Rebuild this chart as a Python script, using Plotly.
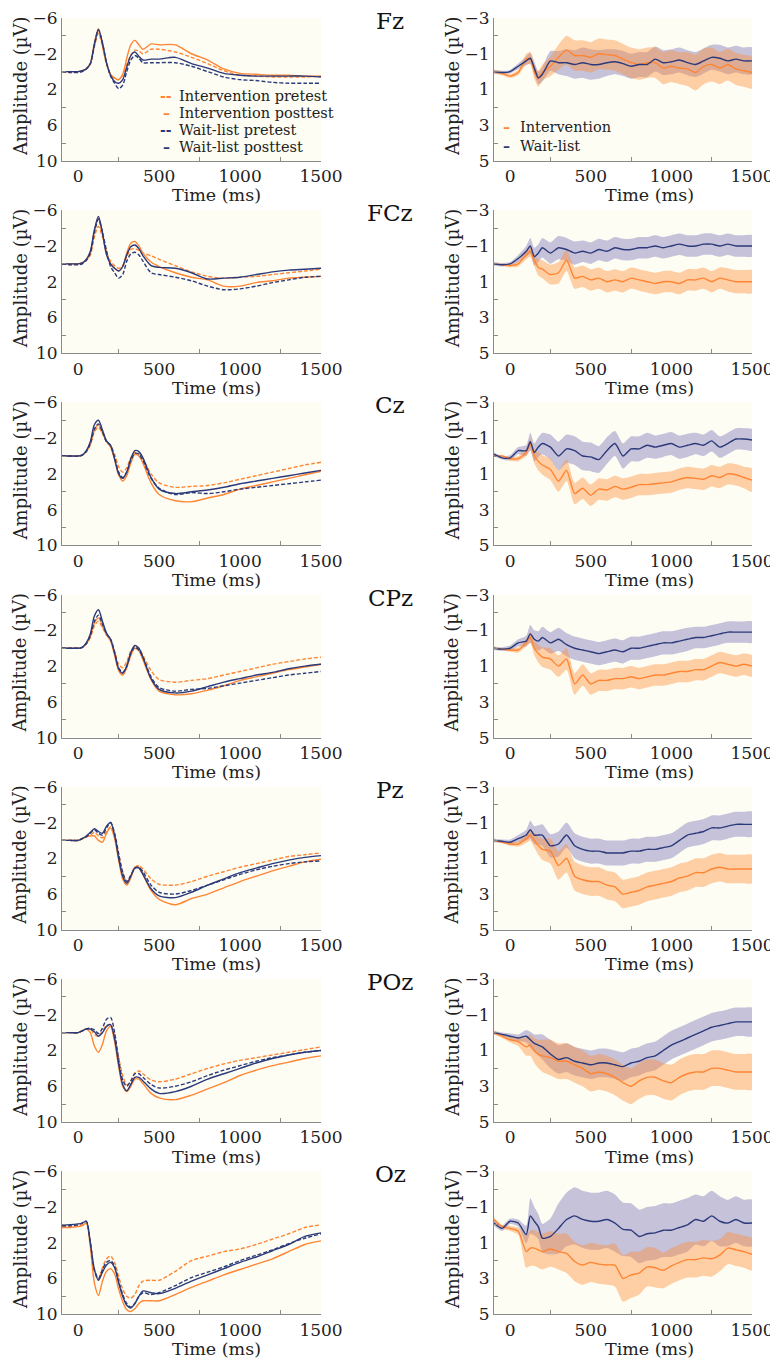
import plotly.graph_objects as go

# ---------------- data ----------------
CHANNELS = ["Fz", "FCz", "Cz", "CPz", "Pz", "POz", "Oz"]

TL = [-100, -50, 0, 25, 50, 75, 100, 125, 150, 175, 200, 225, 250, 275, 300, 325, 350, 375, 400,
      450, 500, 600, 700, 800, 900, 1000, 1100, 1200, 1300, 1400, 1500]

# left panels: grand averages (µV) -- int_pre, int_post, wl_pre, wl_post
fz_int_pre = [0, 0.1, 0, -0.1, -0.3, -0.8, -2.8, -4.3, -2.8, -0.8, 0.3, 0.8, 0.9, 0.4, -0.8, -1.8, -2.4, -2.3, -2.0, -2.5, -2.5, -2.2, -1.6, -0.9, -0.1, 0.4, 0.5, 0.6, 0.6, 0.6, 0.5]
fz_int_post = [0, 0, 0, -0.1, -0.3, -0.9, -3.2, -4.8, -3.0, -0.9, 0.3, 0.7, 0.9, 0.3, -1.5, -3.0, -3.5, -3.0, -2.5, -3.1, -3.0, -3.0, -2.0, -1.3, -0.3, 0.2, 0.3, 0.4, 0.4, 0.5, 0.5]
fz_wl_pre = [0, 0.1, 0.1, 0, -0.3, -0.9, -3.0, -4.7, -3.2, -1.0, 0.5, 1.3, 1.9, 1.5, 0.0, -1.3, -1.8, -1.5, -1.0, -1.0, -1.0, -1.0, -0.6, 0.0, 0.6, 0.9, 1.0, 1.2, 1.3, 1.3, 1.3]
fz_wl_post = [0, 0, 0, -0.1, -0.3, -0.9, -3.0, -4.7, -3.2, -1.0, 0.4, 1.1, 1.3, 0.9, -0.5, -1.8, -2.2, -1.7, -1.3, -1.4, -1.4, -1.6, -0.9, -0.4, 0.2, 0.4, 0.5, 0.5, 0.5, 0.5, 0.6]

fcz_int_pre = [0, 0.1, 0, -0.1, -0.4, -1.0, -3.0, -4.2, -3.0, -1.3, -0.3, 0.2, 0.5, 0.2, -0.8, -1.6, -1.7, -1.5, -1.2, -0.9, -0.5, 0.2, 0.9, 1.4, 1.6, 1.5, 1.4, 1.2, 1.0, 0.8, 0.6]
fcz_int_post = [0, 0, 0, -0.1, -0.4, -1.2, -3.6, -5.1, -3.3, -1.2, 0.0, 0.5, 0.8, 0.3, -1.2, -2.3, -2.5, -2.0, -1.2, -0.2, 0.3, 1.0, 1.5, 1.8, 2.5, 2.5, 2.1, 1.9, 1.6, 1.5, 1.4]
fcz_wl_pre = [0, 0.1, 0.1, 0, -0.4, -1.2, -3.5, -5.0, -3.5, -1.5, 0.3, 1.0, 1.6, 1.2, -0.3, -1.1, -1.3, -1.0, -0.3, 1.0, 1.2, 1.5, 1.9, 2.5, 2.9, 2.8, 2.5, 2.1, 1.8, 1.5, 1.4]
fcz_wl_post = [0, 0, 0, -0.1, -0.5, -1.4, -3.8, -5.3, -3.5, -1.0, 0.0, 0.5, 0.8, 0.3, -1.0, -1.9, -2.1, -1.7, -0.9, 0.2, 0.4, 0.5, 1.0, 1.7, 1.6, 1.5, 1.2, 0.9, 0.7, 0.6, 0.5]

cz_int_pre = [0, 0, 0, -0.1, -0.5, -1.3, -2.7, -3.2, -2.5, -1.6, -1.2, -0.2, 1.2, 1.8, 1.3, 0.2, -0.4, -0.3, 0.3, 2.0, 3.0, 3.5, 3.4, 3.3, 3.0, 2.6, 2.2, 1.8, 1.4, 1.0, 0.7]
cz_int_post = [0, 0, 0, -0.1, -0.5, -1.3, -2.9, -3.5, -2.6, -1.6, -1.0, 0.4, 2.1, 2.8, 2.2, 0.8, -0.2, 0.0, 0.8, 3.0, 4.3, 5.0, 5.1, 4.7, 4.3, 3.7, 3.3, 2.9, 2.5, 2.1, 1.7]
cz_wl_pre = [0, 0, 0, -0.1, -0.5, -1.4, -3.0, -3.6, -2.7, -1.6, -1.2, 0.2, 1.8, 2.4, 1.8, 0.5, -0.3, -0.2, 0.5, 2.5, 3.6, 4.3, 4.1, 4.2, 4.0, 3.7, 3.5, 3.3, 3.1, 2.9, 2.7]
cz_wl_post = [0, 0, 0, -0.1, -0.6, -1.6, -3.5, -4.0, -2.9, -1.7, -1.2, 0.3, 2.0, 2.5, 1.8, 0.3, -0.6, -0.5, 0.2, 2.4, 3.7, 4.2, 4.0, 3.8, 3.5, 3.1, 2.8, 2.5, 2.2, 1.9, 1.6]

cpz_int_pre = [0, 0, 0, -0.1, -0.5, -1.2, -2.5, -3.0, -2.3, -1.5, -1.0, 0.3, 1.8, 2.2, 1.5, 0.3, -0.2, 0.0, 0.8, 2.5, 3.5, 3.8, 3.6, 3.4, 3.0, 2.6, 2.2, 1.8, 1.5, 1.2, 1.0]
cpz_int_post = [0, 0, 0, -0.1, -0.5, -1.3, -2.8, -3.4, -2.5, -1.5, -0.8, 0.8, 2.5, 3.0, 2.2, 0.8, 0.0, 0.3, 1.3, 3.5, 4.8, 5.2, 5.1, 4.7, 4.2, 3.6, 3.2, 2.8, 2.4, 2.1, 1.8]
cpz_wl_pre = [0, 0, 0, -0.1, -0.5, -1.4, -3.0, -3.7, -2.7, -1.6, -1.0, 0.5, 2.2, 2.7, 2.0, 0.6, -0.1, 0.2, 1.0, 3.2, 4.4, 4.8, 4.6, 4.5, 4.2, 3.9, 3.6, 3.3, 3.0, 2.8, 2.6]
cpz_wl_post = [0, 0, 0, -0.1, -0.6, -1.6, -3.6, -4.3, -3.0, -1.7, -1.0, 0.5, 2.3, 2.8, 2.0, 0.5, -0.3, 0.0, 1.0, 3.4, 4.6, 5.0, 4.8, 4.3, 3.8, 3.4, 3.0, 2.7, 2.3, 2.0, 1.8]

pz_int_pre = [0, 0, 0, -0.2, -0.4, -0.6, -0.9, -0.5, -0.3, -1.0, -1.5, -0.6, 1.5, 3.5, 4.6, 4.0, 3.0, 2.8, 3.2, 4.3, 4.9, 5.0, 4.6, 4.0, 3.5, 3.0, 2.6, 2.2, 1.8, 1.6, 1.4]
pz_int_post = [0, 0, 0, -0.2, -0.4, -0.5, -0.5, 0.0, 0.2, -0.8, -1.4, -0.2, 2.2, 4.3, 5.0, 4.2, 3.0, 3.0, 3.8, 5.6, 6.6, 7.2, 6.5, 6.0, 5.3, 4.6, 4.0, 3.4, 2.9, 2.4, 2.1]
pz_wl_pre = [0, 0, 0, -0.2, -0.4, -0.8, -1.2, -0.8, -0.6, -1.4, -2.0, -0.8, 1.5, 3.6, 4.6, 3.9, 3.1, 3.0, 3.5, 5.0, 5.8, 6.0, 5.6, 5.0, 4.4, 3.8, 3.3, 2.9, 2.6, 2.4, 2.3]
pz_wl_post = [0, 0, 0, -0.2, -0.5, -0.9, -1.3, -1.0, -0.8, -1.6, -2.0, -0.6, 2.0, 4.0, 4.8, 4.0, 3.1, 3.1, 3.8, 5.4, 6.2, 6.4, 5.8, 5.0, 4.3, 3.6, 3.1, 2.6, 2.2, 1.9, 1.7]

poz_int_pre = [0, 0, 0, -0.2, -0.4, -0.4, 0.2, 0.4, -0.2, -0.8, -0.9, 0.5, 2.8, 4.8, 5.8, 5.5, 4.5, 4.3, 4.6, 5.3, 5.5, 5.2, 4.6, 4.0, 3.5, 3.1, 2.8, 2.5, 2.2, 1.9, 1.6]
poz_int_post = [0, 0, 0, -0.2, -0.4, 0.0, 1.5, 2.2, 1.3, -0.2, -0.7, 1.0, 3.8, 6.0, 6.6, 6.0, 5.2, 5.2, 5.7, 6.8, 7.3, 7.5, 7.0, 6.3, 5.6, 4.8, 4.2, 3.7, 3.3, 2.9, 2.6]
poz_wl_pre = [0, 0, 0, -0.2, -0.4, -0.5, -0.3, 0.1, -0.5, -1.5, -1.7, 0.0, 3.0, 5.3, 6.0, 5.4, 4.6, 4.6, 5.0, 5.8, 6.2, 6.0, 5.5, 4.8, 4.2, 3.7, 3.2, 2.8, 2.5, 2.2, 2.0]
poz_wl_post = [0, 0, 0, -0.2, -0.4, -0.4, -0.1, 0.4, 0.0, -0.7, -0.9, 0.7, 3.5, 5.8, 6.5, 5.8, 5.0, 5.0, 5.4, 6.3, 6.8, 6.6, 6.0, 5.2, 4.6, 4.0, 3.4, 2.9, 2.5, 2.2, 2.0]

oz_int_pre = [0.2, 0.2, 0.1, 0, -0.3, 2.0, 5.2, 6.2, 4.8, 3.8, 3.5, 4.2, 5.8, 7.2, 8.0, 8.2, 7.8, 6.8, 6.3, 6.2, 6.2, 5.2, 4.0, 3.5, 3.0, 2.7, 2.2, 1.6, 1.0, 0.3, 0.0]
oz_int_post = [0.3, 0.3, 0.2, 0.1, -0.2, 2.5, 6.5, 7.9, 6.3, 5.2, 4.9, 5.5, 7.2, 8.6, 9.5, 9.7, 9.4, 8.8, 8.5, 8.5, 8.5, 7.8, 7.0, 6.3, 5.6, 5.0, 4.4, 3.8, 3.0, 2.2, 1.8]
oz_wl_pre = [0.1, 0.1, 0, -0.2, -0.4, 2.0, 5.0, 6.0, 5.0, 4.2, 4.0, 4.6, 6.3, 7.8, 8.8, 9.2, 8.8, 8.0, 7.6, 7.8, 7.6, 6.8, 5.9, 5.3, 4.7, 4.0, 3.4, 2.8, 2.1, 1.5, 1.0]
oz_wl_post = [0, 0, -0.1, -0.2, -0.4, 2.0, 5.0, 6.2, 5.3, 4.5, 4.2, 4.8, 6.5, 8.0, 9.0, 9.3, 8.8, 8.0, 7.4, 7.6, 7.7, 7.1, 6.3, 5.6, 4.9, 4.2, 3.6, 2.9, 2.2, 1.3, 0.9]

LEFT = {
    "Fz": (fz_int_pre, fz_int_post, fz_wl_pre, fz_wl_post),
    "FCz": (fcz_int_pre, fcz_int_post, fcz_wl_pre, fcz_wl_post),
    "Cz": (cz_int_pre, cz_int_post, cz_wl_pre, cz_wl_post),
    "CPz": (cpz_int_pre, cpz_int_post, cpz_wl_pre, cpz_wl_post),
    "Pz": (pz_int_pre, pz_int_post, pz_wl_pre, pz_wl_post),
    "POz": (poz_int_pre, poz_int_post, poz_wl_pre, poz_wl_post),
    "Oz": (oz_int_pre, oz_int_post, oz_wl_pre, oz_wl_post),
}

# right panels: difference waves (post - pre) with error bands
TR = [-100, -50, 0, 50, 100, 125, 150, 175, 200, 250, 300, 350, 400, 450, 500, 550, 600, 650, 700,
      750, 800, 850, 900, 950, 1000, 1050, 1100, 1150, 1200, 1250, 1300, 1350, 1400, 1450, 1500]

fz_int = [0, 0.1, 0.25, 0.05, -0.7, -0.75, 0.0, 0.4, 0.05, -0.3, -0.8, -1.2, -0.9, -0.9, -0.8, -1.0, -0.95, -0.9, -0.7, -0.5, -0.4, -0.5, -0.5, -0.2, -0.3, -0.2, -0.15, 0.05, -0.3, -0.4, -0.2, -0.4, -0.15, -0.05, 0.05]
fz_int_err = [0.1, 0.1, 0.1, 0.15, 0.3, 0.35, 0.4, 0.45, 0.45, 0.55, 0.7, 0.8, 0.85, 0.85, 0.85, 0.85, 0.85, 0.85, 0.85, 0.85, 0.85, 0.85, 0.85, 0.9, 0.9, 0.9, 0.95, 1.0, 1.0, 0.95, 0.9, 0.9, 0.9, 0.9, 0.9]
fz_wl = [0, 0.05, 0.0, -0.3, -0.6, -0.75, -0.2, 0.35, 0.15, -0.6, -0.5, -0.5, -0.4, -0.5, -0.4, -0.4, -0.5, -0.55, -0.45, -0.3, -0.4, -0.4, -0.7, -0.5, -0.55, -0.65, -0.5, -0.4, -0.6, -0.8, -0.75, -0.6, -0.7, -0.6, -0.6]
fz_wl_err = [0.1, 0.1, 0.1, 0.15, 0.25, 0.3, 0.35, 0.35, 0.4, 0.55, 0.65, 0.75, 0.8, 0.85, 0.85, 0.8, 0.75, 0.7, 0.7, 0.7, 0.7, 0.7, 0.7, 0.7, 0.7, 0.7, 0.7, 0.7, 0.7, 0.7, 0.75, 0.75, 0.75, 0.75, 0.75]

fcz_int = [0, 0.05, 0.1, 0.0, -0.5, -0.7, -0.2, 0.2, 0.3, 0.6, 0.5, -0.2, 0.8, 0.7, 0.9, 0.8, 1.0, 0.9, 1.0, 0.8, 0.9, 1.0, 1.1, 1.0, 1.0, 1.1, 0.9, 0.9, 0.8, 1.0, 0.8, 0.9, 1.0, 1.0, 1.0]
fcz_int_err = [0.05, 0.05, 0.1, 0.15, 0.25, 0.3, 0.35, 0.45, 0.5, 0.55, 0.6, 0.6, 0.6, 0.6, 0.6, 0.6, 0.6, 0.6, 0.6, 0.6, 0.6, 0.6, 0.6, 0.6, 0.6, 0.6, 0.6, 0.6, 0.6, 0.6, 0.6, 0.65, 0.65, 0.65, 0.65]
fcz_wl = [0, 0.05, 0.0, -0.3, -0.7, -1.0, -0.4, -0.6, -0.9, -0.6, -0.9, -0.8, -0.6, -0.7, -0.6, -0.8, -0.7, -0.9, -0.8, -0.8, -0.9, -0.9, -1.0, -0.9, -1.0, -1.1, -1.0, -1.0, -1.1, -1.1, -1.0, -1.1, -1.0, -1.0, -1.0]
fcz_wl_err = [0.1, 0.1, 0.1, 0.2, 0.3, 0.45, 0.5, 0.5, 0.55, 0.6, 0.65, 0.65, 0.65, 0.6, 0.6, 0.6, 0.6, 0.6, 0.6, 0.6, 0.6, 0.6, 0.6, 0.6, 0.6, 0.6, 0.6, 0.6, 0.6, 0.6, 0.6, 0.6, 0.6, 0.6, 0.6]

cz_int = [0, 0.0, 0.15, 0.15, -0.2, -0.7, 0.0, 0.3, 0.5, 0.75, 1.4, 0.8, 2.1, 1.8, 2.2, 1.85, 1.9, 1.7, 1.85, 1.75, 1.6, 1.6, 1.55, 1.5, 1.45, 1.3, 1.2, 1.25, 1.3, 1.1, 1.2, 1.0, 1.05, 1.2, 1.35]
cz_int_err = [0.05, 0.05, 0.1, 0.15, 0.2, 0.3, 0.4, 0.5, 0.55, 0.6, 0.6, 0.6, 0.6, 0.6, 0.6, 0.6, 0.6, 0.6, 0.6, 0.6, 0.6, 0.6, 0.6, 0.6, 0.6, 0.6, 0.6, 0.6, 0.6, 0.6, 0.6, 0.6, 0.6, 0.6, 0.65]
cz_wl = [-0.1, 0.1, 0.1, -0.3, -0.3, -0.8, -0.2, -0.5, -0.7, -0.5, 0.0, -0.4, -0.3, 0.0, 0.05, 0.2, -0.3, -0.7, 0.0, -0.4, -0.4, -0.6, -0.5, -0.6, -0.7, -0.5, -0.6, -0.7, -0.6, -0.85, -0.5, -0.7, -0.95, -0.95, -0.9]
cz_wl_err = [0.1, 0.1, 0.15, 0.2, 0.3, 0.5, 0.5, 0.55, 0.6, 0.7, 0.8, 0.8, 0.8, 0.8, 0.8, 0.75, 0.75, 0.7, 0.7, 0.7, 0.7, 0.7, 0.65, 0.65, 0.65, 0.65, 0.65, 0.6, 0.6, 0.6, 0.6, 0.6, 0.6, 0.6, 0.6]

cpz_int = [0, 0.05, 0.1, 0.1, -0.3, -0.6, 0.0, 0.3, 0.5, 0.6, 1.0, 0.6, 2.0, 1.5, 2.0, 1.8, 1.8, 1.7, 1.7, 1.6, 1.7, 1.6, 1.5, 1.5, 1.4, 1.3, 1.3, 1.2, 1.2, 1.0, 0.8, 0.9, 1.0, 0.9, 1.0]
cpz_int_err = [0.05, 0.05, 0.1, 0.15, 0.2, 0.3, 0.4, 0.5, 0.55, 0.6, 0.6, 0.6, 0.6, 0.6, 0.6, 0.6, 0.6, 0.6, 0.6, 0.6, 0.6, 0.6, 0.6, 0.6, 0.6, 0.6, 0.6, 0.6, 0.6, 0.6, 0.6, 0.6, 0.6, 0.6, 0.6]
cpz_wl = [0, 0.05, 0.0, -0.3, -0.4, -0.8, -0.5, -0.4, -0.6, -0.3, -0.5, -0.2, 0.0, 0.1, 0.2, 0.3, 0.2, 0.1, 0.2, 0.0, 0.0, -0.1, -0.2, -0.3, -0.3, -0.4, -0.5, -0.6, -0.6, -0.7, -0.8, -0.9, -0.9, -0.9, -0.9]
cpz_wl_err = [0.1, 0.1, 0.15, 0.2, 0.3, 0.5, 0.5, 0.55, 0.6, 0.6, 0.65, 0.65, 0.65, 0.65, 0.65, 0.65, 0.65, 0.65, 0.65, 0.65, 0.65, 0.65, 0.65, 0.65, 0.65, 0.65, 0.65, 0.6, 0.6, 0.6, 0.6, 0.6, 0.6, 0.6, 0.6]

pz_int = [0, 0.1, 0.2, 0.2, -0.1, -0.3, 0.0, 0.3, 0.5, 0.6, 1.4, 1.0, 2.0, 2.2, 2.3, 2.3, 2.5, 2.6, 3.0, 2.9, 2.8, 2.6, 2.5, 2.4, 2.3, 2.1, 2.0, 1.8, 1.8, 1.6, 1.5, 1.6, 1.6, 1.6, 1.6]
pz_int_err = [0.05, 0.05, 0.1, 0.15, 0.25, 0.3, 0.4, 0.5, 0.6, 0.7, 0.8, 0.8, 0.8, 0.8, 0.8, 0.8, 0.8, 0.8, 0.8, 0.8, 0.8, 0.8, 0.8, 0.8, 0.8, 0.8, 0.8, 0.8, 0.8, 0.8, 0.8, 0.8, 0.8, 0.8, 0.8]
pz_wl = [0, 0.05, 0.1, -0.1, -0.3, -0.6, -0.3, -0.3, -0.3, 0.3, 0.2, -0.3, 0.3, 0.5, 0.6, 0.6, 0.7, 0.7, 0.7, 0.6, 0.6, 0.5, 0.5, 0.4, 0.3, 0.0, -0.3, -0.4, -0.5, -0.7, -0.7, -0.8, -0.9, -0.9, -0.9]
pz_wl_err = [0.1, 0.1, 0.15, 0.2, 0.3, 0.5, 0.5, 0.55, 0.6, 0.65, 0.7, 0.7, 0.7, 0.7, 0.7, 0.7, 0.7, 0.7, 0.7, 0.7, 0.7, 0.7, 0.7, 0.7, 0.7, 0.7, 0.7, 0.7, 0.7, 0.7, 0.7, 0.7, 0.7, 0.7, 0.7]

poz_int = [0, 0.2, 0.4, 0.5, 0.8, 0.7, 1.0, 1.2, 1.3, 1.4, 1.6, 1.6, 1.8, 2.0, 2.3, 2.2, 2.3, 2.5, 2.8, 3.0, 2.7, 2.5, 2.5, 2.7, 2.8, 2.5, 2.3, 2.2, 2.2, 2.0, 2.0, 2.1, 2.2, 2.2, 2.2]
poz_int_err = [0.1, 0.1, 0.15, 0.25, 0.5, 0.6, 0.7, 0.8, 0.9, 1.0, 1.0, 1.0, 1.0, 1.0, 1.0, 1.0, 1.0, 1.0, 1.0, 1.0, 1.0, 1.0, 1.0, 1.0, 1.0, 1.0, 1.0, 1.0, 1.0, 1.0, 1.0, 1.0, 1.0, 1.0, 1.0]
poz_wl = [0, 0.1, 0.2, 0.3, 0.2, 0.4, 0.6, 0.7, 0.8, 1.2, 1.5, 1.4, 1.6, 1.7, 1.8, 1.7, 1.7, 1.8, 1.9, 1.7, 1.6, 1.4, 1.3, 1.0, 0.7, 0.5, 0.3, 0.1, -0.1, -0.3, -0.4, -0.5, -0.6, -0.6, -0.6]
poz_wl_err = [0.1, 0.1, 0.15, 0.2, 0.35, 0.45, 0.5, 0.6, 0.7, 0.8, 0.8, 0.8, 0.8, 0.8, 0.8, 0.8, 0.8, 0.8, 0.8, 0.8, 0.8, 0.8, 0.8, 0.8, 0.8, 0.8, 0.8, 0.8, 0.8, 0.8, 0.8, 0.8, 0.8, 0.8, 0.8]

oz_int = [-0.3, 0.1, 0.2, 0.35, 1.5, 1.3, 1.3, 1.4, 1.5, 1.35, 1.5, 1.6, 2.05, 2.25, 2.1, 2.2, 2.25, 2.25, 3.0, 2.8, 2.7, 2.35, 2.4, 2.55, 2.3, 2.1, 1.95, 1.95, 1.85, 1.9, 1.7, 1.3, 1.4, 1.5, 1.65]
oz_int_err = [0.1, 0.1, 0.15, 0.2, 0.9, 1.0, 1.0, 1.0, 1.0, 1.0, 1.0, 1.1, 1.1, 1.1, 1.1, 1.1, 1.1, 1.2, 1.3, 1.3, 1.2, 1.1, 1.1, 1.0, 1.0, 1.0, 1.0, 1.0, 1.0, 1.0, 0.9, 0.9, 0.9, 0.9, 0.9]
oz_wl = [-0.1, 0.2, -0.2, -0.1, 0.55, -0.5, -0.2, 0.1, 0.75, 0.65, 0.2, -0.3, -0.5, -0.3, -0.2, -0.2, -0.3, -0.1, 0.25, 0.3, 0.65, 0.5, 0.45, 0.3, 0.3, 0.15, 0.0, -0.3, -0.2, -0.5, -0.2, -0.1, -0.3, -0.1, -0.1]
oz_wl_err = [0.15, 0.15, 0.15, 0.2, 0.5, 1.0, 0.8, 0.7, 0.8, 1.0, 1.4, 1.5, 1.6, 1.6, 1.6, 1.6, 1.6, 1.6, 1.5, 1.5, 1.5, 1.5, 1.5, 1.5, 1.5, 1.5, 1.5, 1.4, 1.4, 1.4, 1.4, 1.3, 1.3, 1.3, 1.3]

RIGHT = {
    "Fz": (fz_int, fz_int_err, fz_wl, fz_wl_err),
    "FCz": (fcz_int, fcz_int_err, fcz_wl, fcz_wl_err),
    "Cz": (cz_int, cz_int_err, cz_wl, cz_wl_err),
    "CPz": (cpz_int, cpz_int_err, cpz_wl, cpz_wl_err),
    "Pz": (pz_int, pz_int_err, pz_wl, pz_wl_err),
    "POz": (poz_int, poz_int_err, poz_wl, poz_wl_err),
    "Oz": (oz_int, oz_int_err, oz_wl, oz_wl_err),
}

LEFT_NAMES = ["Intervention pretest", "Intervention posttest", "Wait-list pretest", "Wait-list posttest"]
RIGHT_NAMES = ["Intervention", "Wait-list"]
X_TICKS = [0, 500, 1000, 1500]
L_TICKS = [-6, -2, 2, 6, 10]
L_TICKTEXT = ["\u22126", "\u22122", "2", "6", "10"]
R_TICKS = [-3, -1, 1, 3, 5]
R_TICKTEXT = ["\u22123", "\u22121", "1", "3", "5"]

# ---------------- style ----------------
OFF = 8                      # page body margin offset
W, H = 778 - OFF, 1358 - OFF
FONT = "DejaVu Serif"
ORANGE = "#FF8533"
NAVY = "#2B3A7A"
ORANGE_FILL = "rgba(255,142,55,0.42)"
NAVY_FILL = "rgba(107,97,177,0.38)"
AXIS = "#8a8a8a"
BG = "#FDFDF4"
TXT = "#222"

LX = (62, 321)
RX = (494, 752)
TOP0, ROWSTEP, PH = 18, 192.2, 143

fig = go.Figure()
layout = dict(
    width=W, height=H, margin=dict(l=0, r=0, t=0, b=0, autoexpand=False),
    paper_bgcolor="white", plot_bgcolor=BG, showlegend=False,
    font=dict(family=FONT, size=17, color=TXT),
    annotations=[],
)


def px_x(p):
    return (p - OFF) / W


def px_y(p):
    return 1 - (p - OFF) / H


def note(text, x, y, size, xanchor="center", color=TXT, angle=0):
    layout["annotations"].append(dict(
        text=text, x=px_x(x), y=px_y(y), xref="paper", yref="paper", showarrow=False,
        textangle=angle, font=dict(size=size, color=color), xanchor=xanchor, yanchor="middle"))


for r, ch in enumerate(CHANNELS):
    top = TOP0 + ROWSTEP * r
    bot = top + PH
    ydom = [px_y(bot), px_y(top)]
    for c in range(2):
        idx = 2 * r + c + 1
        xs = "x" if idx == 1 else f"x{idx}"
        ys = "y" if idx == 1 else f"y{idx}"
        xk = "xaxis" if idx == 1 else f"xaxis{idx}"
        yk = "yaxis" if idx == 1 else f"yaxis{idx}"
        xd = LX if c == 0 else RX
        layout[xk] = dict(
            domain=[px_x(xd[0]), px_x(xd[1])], anchor=ys, range=[-100, 1500], automargin=False,
            tickvals=X_TICKS, ticks="", showline=True, linecolor=AXIS, linewidth=1,
            showgrid=False, zeroline=False, tickfont=dict(size=17, color=TXT),
            ticklabeloverflow="allow",
            minor=dict(tickvals=[250, 750, 1250], ticks="inside", ticklen=4,
                       tickcolor=AXIS, showgrid=False),
        )
        if c == 0:
            yr, tv, tt, mv = [10, -6], L_TICKS, L_TICKTEXT, [-4, 0, 4, 8]
        else:
            yr, tv, tt, mv = [5, -3], R_TICKS, R_TICKTEXT, [-2, 0, 2, 4]
        layout[yk] = dict(
            domain=ydom, anchor=xs, range=yr, tickvals=tv, ticktext=tt, ticks="", automargin=False,
            showline=True, linecolor=AXIS, linewidth=1, showgrid=False, zeroline=False,
            tickfont=dict(size=17, color=TXT), ticklabeloverflow="allow",
            minor=dict(tickvals=mv, ticks="inside", ticklen=4, tickcolor=AXIS, showgrid=False),
        )
        # axis titles
        note("Time (ms)", 217 if c == 0 else 649, bot + 34.5, 17.5)
        note("Amplitude (\u00b5V)", 20 if c == 0 else 452, top + 68, 18, angle=-90)

        if c == 0:
            series = LEFT[ch]
            styles = [(ORANGE, "4px,2px"), (ORANGE, "solid"), (NAVY, "4px,2px"), (NAVY, "solid")]
            for k, (vals, (col, dash)) in enumerate(zip(series, styles)):
                fig.add_trace(go.Scatter(
                    x=TL, y=vals, xaxis=xs, yaxis=ys, mode="lines", name=LEFT_NAMES[k],
                    line=dict(color=col, width=1.4, dash=dash, shape="spline", smoothing=0.8),
                    hoverinfo="skip"))
        else:
            m_int, e_int, m_wl, e_wl = RIGHT[ch]
            for m, e, fillc in ((m_wl, e_wl, NAVY_FILL), (m_int, e_int, ORANGE_FILL)):
                up = [a - b for a, b in zip(m, e)]
                lo = [a + b for a, b in zip(m, e)]
                fig.add_trace(go.Scatter(
                    x=TR + TR[::-1], y=up + lo[::-1], xaxis=xs, yaxis=ys, mode="lines",
                    fill="toself", fillcolor=fillc, line=dict(width=0, shape="spline", smoothing=0.6),
                    hoverinfo="skip"))
            for m, col, nm in ((m_int, ORANGE, RIGHT_NAMES[0]), (m_wl, NAVY, RIGHT_NAMES[1])):
                fig.add_trace(go.Scatter(
                    x=TR, y=m, xaxis=xs, yaxis=ys, mode="lines", name=nm,
                    line=dict(color=col, width=1.4, shape="spline", smoothing=0.6),
                    hoverinfo="skip"))
    # channel label
    note(ch, 390, top + 3, 23, color="#111")

# legends (drawn as keyed text entries, like the original figure)
LEG_L = [("--", ORANGE), ("\u2013", ORANGE), ("--", NAVY), ("\u2013", NAVY)]
for k, (name, (sym, col)) in enumerate(zip(LEFT_NAMES, LEG_L)):
    yk = 96 + 17 * k
    note(f"<b>{sym}</b>", 166, yk, 14, color=col)
    note(name, 177, yk, 14.5, xanchor="left")
LEG_R = [("\u2013", ORANGE), ("\u2013", NAVY)]
for k, (name, (sym, col)) in enumerate(zip(RIGHT_NAMES, LEG_R)):
    yk = 127 + 19 * k
    note(f"<b>{sym}</b>", 506, yk, 14, color=col)
    note(name, 518, yk, 14.5, xanchor="left")

fig.update_layout(**layout)
fig.write_html("out.html")
